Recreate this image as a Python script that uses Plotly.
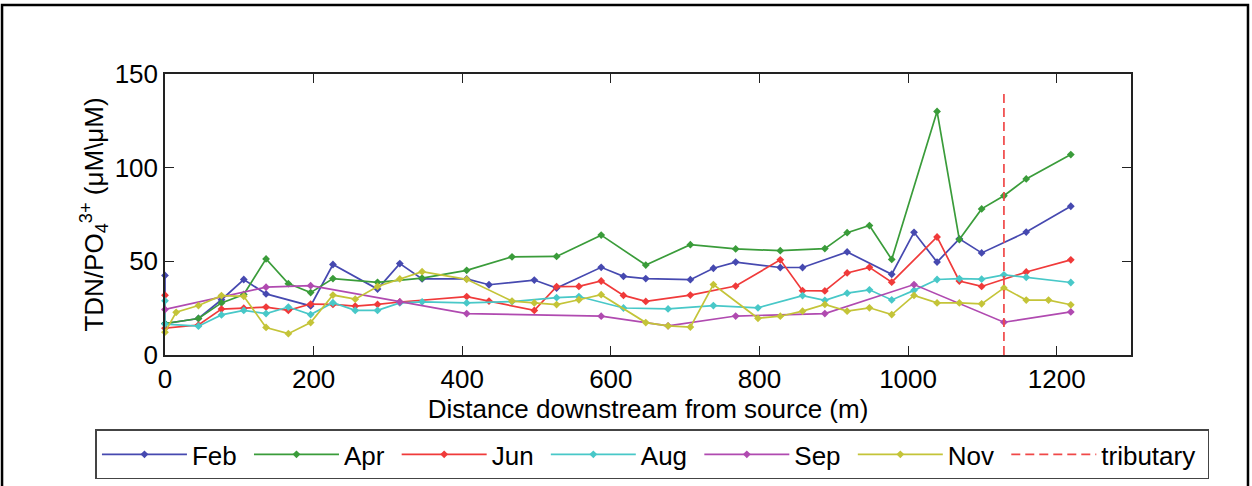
import plotly.graph_objects as go

# ---- data (distance downstream in m, TDN/PO4 ratio) ----
feb_x = [0, 0, 45, 76, 106, 136, 196, 226, 286, 316, 346, 406, 436, 497, 527, 587, 617, 647, 707, 738, 768, 828, 858, 918, 978, 1008, 1039, 1069, 1099, 1159, 1219]
feb_y = [42.5, 16.8, 19.5, 29.5, 40.3, 32.6, 26.2, 48.3, 35.2, 48.8, 40.6, 40.6, 37.5, 40.0, 35.7, 46.8, 42.0, 40.8, 40.2, 46.3, 49.6, 46.7, 46.7, 55.0, 43.1, 65.5, 49.6, 62.0, 54.5, 65.6, 79.4]

apr_x = [0, 45, 76, 106, 136, 166, 196, 226, 286, 346, 406, 467, 527, 587, 647, 707, 768, 828, 888, 918, 948, 978, 1039, 1069, 1099, 1129, 1159, 1219]
apr_y = [16.8, 19.5, 27.8, 32.3, 51.3, 38.1, 33.3, 40.8, 38.8, 41.0, 45.2, 52.4, 52.6, 64.0, 48.0, 58.9, 56.6, 55.7, 56.8, 65.3, 69.1, 51.0, 130.0, 61.6, 78.0, 85.0, 94.0, 107.0]

jun_x = [0, 0, 45, 76, 106, 136, 166, 196, 226, 256, 286, 316, 406, 436, 497, 527, 557, 587, 617, 647, 707, 768, 828, 858, 888, 918, 948, 978, 1039, 1069, 1099, 1159, 1219]
jun_y = [31.9, 14.3, 16.0, 24.5, 25.0, 25.6, 23.8, 27.2, 27.0, 26.1, 27.0, 28.3, 31.2, 28.8, 23.8, 36.5, 36.6, 39.5, 31.8, 28.6, 32.0, 36.8, 50.8, 34.3, 34.2, 43.8, 46.8, 38.9, 63.0, 39.5, 36.6, 44.3, 50.8]

aug_x = [0, 0, 45, 76, 106, 136, 166, 196, 226, 256, 286, 316, 346, 406, 467, 527, 557, 617, 677, 738, 798, 858, 888, 918, 948, 978, 1008, 1039, 1069, 1099, 1129, 1159, 1219]
aug_y = [28.9, 16.5, 15.4, 21.4, 23.8, 22.1, 25.6, 21.6, 27.9, 23.8, 23.8, 27.8, 28.4, 27.8, 28.5, 30.6, 31.2, 25.1, 24.6, 26.4, 25.2, 31.7, 29.2, 33.0, 34.8, 29.4, 34.5, 40.3, 40.8, 40.5, 42.8, 41.5, 38.7]

sep_x = [0, 136, 196, 316, 406, 587, 677, 768, 888, 1008, 1129, 1219]
sep_y = [24.3, 36.2, 37.0, 28.3, 22.1, 20.7, 15.6, 20.8, 22.1, 37.6, 17.5, 23.0]

nov_x = [0, 15, 45, 76, 106, 136, 166, 196, 226, 256, 286, 316, 346, 406, 467, 497, 527, 557, 587, 647, 677, 707, 738, 798, 828, 858, 888, 918, 948, 978, 1008, 1039, 1069, 1099, 1129, 1159, 1189, 1219]
nov_y = [12.2, 22.8, 26.4, 31.7, 31.3, 14.7, 11.4, 17.3, 32.0, 29.8, 36.6, 40.6, 44.5, 40.4, 28.8, 27.8, 26.9, 29.5, 32.2, 17.3, 15.5, 14.9, 37.6, 19.6, 20.7, 23.4, 27.0, 23.4, 25.2, 21.6, 31.8, 27.8, 27.8, 27.3, 35.8, 29.3, 29.3, 26.8]

trib_x = [1129, 1129]
trib_y = [0, 140]

x_ticks = [0, 200, 400, 600, 800, 1000, 1200]
y_ticks = [0, 50, 100, 150]

series_names = ["Feb", "Apr", "Jun", "Aug", "Sep", "Nov"]
series_colors = ["#4649b0", "#3a9c3a", "#f03a3a", "#48c8c8", "#b04ab0", "#c4c438"]
series_x = [feb_x, apr_x, jun_x, aug_x, sep_x, nov_x]
series_y = [feb_y, apr_y, jun_y, aug_y, sep_y, nov_y]

FONT = "Liberation Sans, Arial, Helvetica, sans-serif"
PAD = "\u00a0"  # small trailing gap between legend entries

fig = go.Figure()
for name, xs, ys, col in zip(series_names, series_x, series_y, series_colors):
    fig.add_trace(go.Scatter(
        x=xs, y=ys, name=name + PAD, mode="lines+markers",
        line=dict(color=col, width=1.7),
        marker=dict(symbol="diamond", size=6, color=col),
        cliponaxis=False,
    ))

fig.add_trace(go.Scatter(
    x=trib_x, y=trib_y, name="tributary" + PAD, mode="lines",
    line=dict(color="#f04848", width=1.7, dash="9px,5px"),
    cliponaxis=False,
))

fig.update_layout(
    width=1252, height=486,
    margin=dict(l=165, r=121, t=74, b=131, autoexpand=False),
    paper_bgcolor="white", plot_bgcolor="white",
    font=dict(family=FONT, size=26, color="black"),
    showlegend=True,
    legend=dict(
        orientation="h", x=-0.072, xanchor="left", y=-0.265, yanchor="top",
        bordercolor="#444", borderwidth=1.5, bgcolor="white",
        font=dict(size=26), itemwidth=85, tracegroupgap=0,
    ),
    shapes=[dict(
        type="rect", xref="paper", yref="paper",
        x0=-0.1687, x1=1.1211, y0=-0.49, y1=1.2456,
        line=dict(color="black", width=2.5), fillcolor="rgba(0,0,0,0)", layer="below",
    )],
)

fig.update_xaxes(
    range=[0, 1300], tickmode="array", tickvals=x_ticks,
    ticks="inside", ticklen=9, tickwidth=1.2, tickcolor="#222",
    showline=True, linecolor="#222", linewidth=1.5, mirror="ticks",
    showgrid=False, zeroline=False,
    tickfont=dict(size=26),
    title=dict(text="Distance downstream from source (m)", font=dict(size=26), standoff=2),
)
fig.update_yaxes(
    range=[0, 150], tickmode="array", tickvals=y_ticks,
    ticks="inside", ticklen=9, tickwidth=1.2, tickcolor="#222",
    showline=True, linecolor="#222", linewidth=1.5, mirror="ticks",
    showgrid=False, zeroline=False,
    tickfont=dict(size=26),
    title=dict(text="TDN/PO<sub>4</sub><sup>3+</sup> (μM\\μM)", font=dict(size=26), standoff=4),
)

fig.write_html("out.html")
